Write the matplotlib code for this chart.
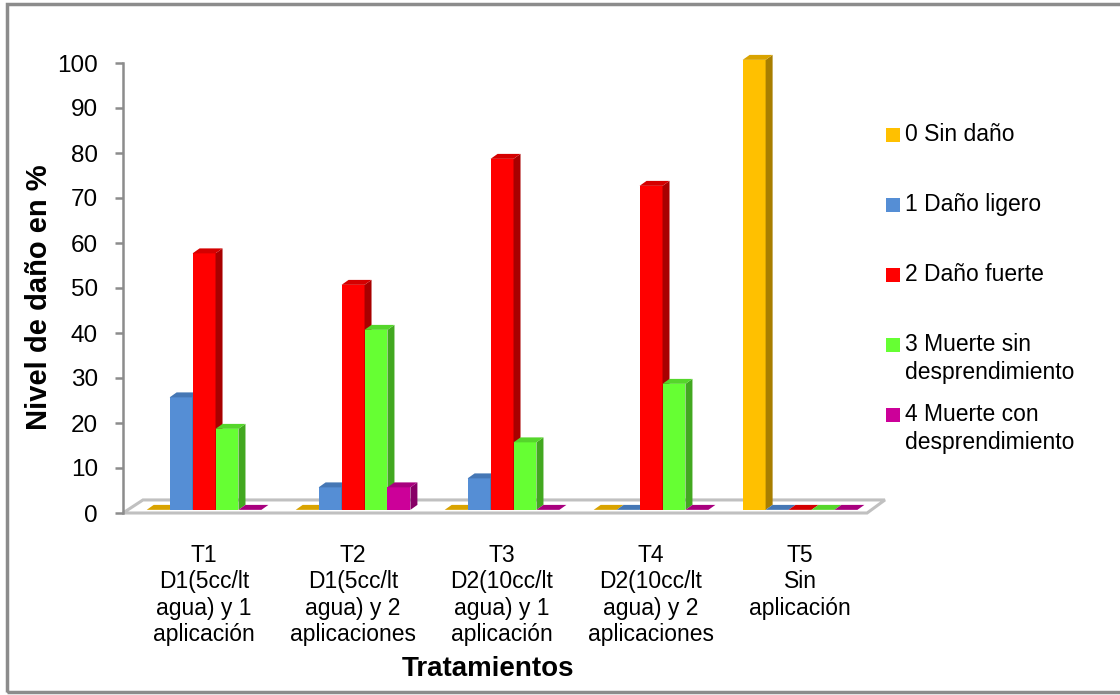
import matplotlib.pyplot as plt
from matplotlib.patches import Polygon, Rectangle

plt.rcParams['font.family'] = ['Liberation Sans', 'DejaVu Sans']

categories = ["T1\nD1(5cc/lt\nagua) y 1\naplicación",
              "T2\nD1(5cc/lt\nagua) y 2\naplicaciones",
              "T3\nD2(10cc/lt\nagua) y 1\naplicación",
              "T4\nD2(10cc/lt\nagua) y 2\naplicaciones",
              "T5\nSin\naplicación"]
series_names = ["0 Sin daño", "1 Daño ligero", "2 Daño fuerte",
                "3 Muerte sin\ndesprendimiento", "4 Muerte con\ndesprendimiento"]
sin_dano = [0, 0, 0, 0, 100]
dano_ligero = [25, 5, 7, 0, 0]
dano_fuerte = [57, 50, 78, 72, 0]
muerte_sin = [18, 40, 15, 28, 0]
muerte_con = [0, 5, 0, 0, 0]
series = [sin_dano, dano_ligero, dano_fuerte, muerte_sin, muerte_con]

# front, side, top colours for each series
front_cols = ["#FFC000", "#558ED5", "#FF0000", "#66FF33", "#CC0099"]
side_cols = ["#A87E00", "#3A6396", "#A80000", "#42A820", "#870066"]
top_cols = ["#D9A300", "#4577B5", "#D40000", "#55D62B", "#A8007E"]

W, H = 1120, 695
fig = plt.figure(figsize=(W / 100, H / 100), dpi=100)
ax = fig.add_axes([123 / W, 1 - 513 / H, (893 - 123) / W, (513 - 63) / H])

ax.set_xlim(-0.544, 4.624)
ax.set_ylim(0, 100)

bw = 0.154      # bar width
dx, dy = 0.047, 1.1   # 3d depth offset
base = 0.7

# floor
floor = Polygon([(-0.544, 0), (4.45, 0), (4.57, 2.9), (-0.41, 2.9)], closed=True,
                facecolor="white", edgecolor="#C0C0C0", lw=2.2, zorder=1, clip_on=False)
ax.add_patch(floor)

z = 2
for i in range(len(categories)):
    for j, vals in enumerate(series):
        x = i + (j - 2) * bw
        h = vals[i]
        x0, x1 = x - bw / 2, x + bw / 2
        if h > 0:
            ax.bar(x, h, bw, bottom=base, color=front_cols[j], zorder=z, clip_on=False)
            ax.add_patch(Polygon([(x1, base), (x1 + dx, base + dy), (x1 + dx, base + h + dy), (x1, base + h)],
                                 closed=True, facecolor=side_cols[j], lw=0, zorder=z, clip_on=False))
        ax.add_patch(Polygon([(x0, base + h), (x1, base + h), (x1 + dx, base + h + dy), (x0 + dx, base + h + dy)],
                             closed=True, facecolor=top_cols[j], lw=0, zorder=z, clip_on=False))
        z += 1

for s in ["top", "right", "bottom"]:
    ax.spines[s].set_visible(False)
ax.spines["left"].set_color("#8C8C8C")
ax.spines["left"].set_linewidth(1.8)
ax.set_yticks(range(0, 101, 10))
ax.tick_params(axis="y", direction="out", length=6, width=1.8, color="#8C8C8C",
               labelsize=17.5, pad=12)
ax.set_xticks(range(len(categories)))
ax.set_xticklabels(categories, fontsize=16.5, linespacing=1.2)
ax.tick_params(axis="x", length=0, pad=22)

fig.text(39 / W, 1 - 297 / H, "Nivel de daño en %", rotation=90, ha="center", va="center",
         fontsize=21, fontweight="bold")
fig.text(488 / W, 1 - 669 / H, "Tratamientos", ha="center", va="center",
         fontsize=20, fontweight="bold")

# legend
leg_y = [135, 205, 275, 345, 415]
for j, name in enumerate(series_names):
    yc = leg_y[j]
    fig.patches.append(Rectangle((886 / W, 1 - (yc + 7) / H), 14 / W, 14 / H,
                                 facecolor=front_cols[j], lw=0, transform=fig.transFigure))
    fig.text(905 / W, 1 - (yc - 12) / H, name, ha="left", va="top", fontsize=16.5,
             linespacing=1.25)

# outer border
fig.patches.append(Rectangle((7 / W, 1 - 692 / H), (W + 10) / W, (692 - 4) / H,
                             fill=False, edgecolor="#8C8C8C", lw=2.5,
                             transform=fig.transFigure))

fig.savefig("out.png", dpi=100)
